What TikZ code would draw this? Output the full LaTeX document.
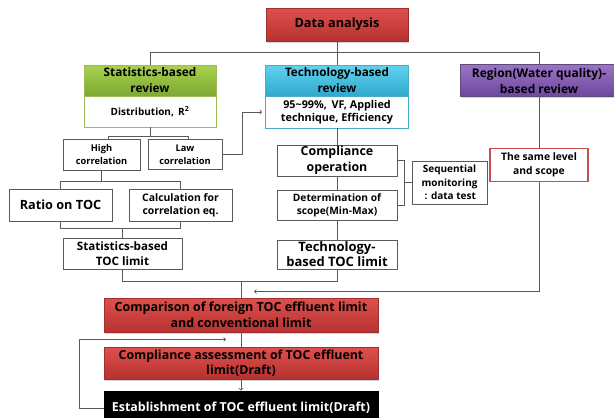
\documentclass[tikz,border=0pt]{standalone}
\usepackage{fontspec}
\setmainfont{Open Sans}
\usetikzlibrary{shadows}

\definecolor{linegray}{HTML}{5A5A5A}
\definecolor{redtop}{HTML}{E0504C}
\definecolor{redbot}{HTML}{B53230}
\definecolor{redline}{HTML}{A0302D}
\definecolor{greentop}{HTML}{A8D24E}
\definecolor{greenbot}{HTML}{7EA832}
\definecolor{greenline}{HTML}{9BBB59}
\definecolor{cyantop}{HTML}{62D2EE}
\definecolor{cyanbot}{HTML}{2EA9CE}
\definecolor{cyanline}{HTML}{4BACC6}
\definecolor{purpletop}{HTML}{9A74C4}
\definecolor{purplebot}{HTML}{6E479E}
\definecolor{purpleline}{HTML}{604A7B}
\definecolor{sameline}{HTML}{C0504D}

\tikzset{
	flowpicture/.style = {
		node distance = 50pt,
		line width = 0.8pt,
		arrow/.style = {
			draw = linegray,
			->,
		},
		link/.style = {
			draw = linegray,
		}
	},
	basebox/.style = {
		inner sep = 0pt,
		align = center,
		font = \bfseries
	},
	whitebox/.style = {
		basebox,
		draw = linegray,
		fill = white
	},
	redbox/.style = {
		basebox,
		draw = redline,
		top color = redtop,
		bottom color = redbot,
		drop shadow = {opacity = 0.35, shadow xshift = 1pt, shadow yshift = -1.5pt}
	},
	greenhead/.style = {
		basebox,
		draw = greenline,
		top color = greentop,
		bottom color = greenbot
	},
	cyanhead/.style = {
		basebox,
		draw = cyanline,
		top color = cyantop,
		bottom color = cyanbot
	},
	purplehead/.style = {
		basebox,
		draw = purpleline,
		top color = purpletop,
		bottom color = purplebot,
		drop shadow = {opacity = 0.35, shadow xshift = 1pt, shadow yshift = -1.5pt}
	},
	blackbox/.style = {
		basebox,
		draw = black,
		fill = black,
		text = white
	},
	fs/.style n args = {2}{
		font = \bfseries\fontsize{#1}{#2}\selectfont
	}
}

\begin{document}
\begin{tikzpicture}[flowpicture]
	\useasboundingbox (0,0) rectangle (614pt,-418pt);

	% top
	\node[redbox, fs = {12.7}{15}, minimum width = 142pt, minimum height = 33pt] (data) at (337pt,-24.5pt) {Data analysis};

	% review headers
	\node[cyanhead, fs = {11.7}{16}, minimum width = 143pt, minimum height = 31pt, below of = data, node distance = 56pt] (tech) {Technology-based\\review};
	\node[greenhead, fs = {11.8}{16}, minimum width = 132pt, minimum height = 31pt, left of = tech, node distance = 187pt] (stat) {Statistics-based\\review};
	\node[purplehead, fs = {12}{16}, minimum width = 157pt, minimum height = 32pt, right of = tech, node distance = 202pt] (region) {Region(Water quality)-\\based review};
	\node[basebox, draw = greenline, fill = white, fs = {10}{13}, minimum width = 132pt, minimum height = 31pt, below of = stat, node distance = 31pt] (statw) {Distribution,\, R\textsuperscript{2}};
	\node[basebox, draw = cyanline, fill = white, fs = {10.8}{13.5}, minimum width = 143pt, minimum height = 32pt, below of = tech, node distance = 31.5pt] (techw) {95\textasciitilde99\%, \,VF, Applied\\technique, Efficiency};

	% statistics column
	\node[whitebox, fs = {9.3}{13}, minimum width = 77pt, minimum height = 31pt, below of = statw, node distance = 43pt, xshift = -48.5pt] (high) {High\\correlation};
	\node[whitebox, fs = {9.3}{13}, minimum width = 74pt, minimum height = 30pt, right of = high, node distance = 83.5pt] (law) {Law\\correlation};
	\node[whitebox, fs = {12.7}{15}, minimum width = 103pt, minimum height = 32pt, below of = high, node distance = 50.5pt, xshift = -41pt] (ratio) {Ratio on TOC};
	\node[whitebox, fs = {10.4}{13}, minimum width = 103pt, minimum height = 32pt, right of = ratio, node distance = 120pt] (calc) {Calculation for\\correlation eq.};
	\node[whitebox, fs = {11.6}{15}, minimum width = 119pt, minimum height = 31pt, below of = ratio, node distance = 48.5pt, xshift = 62pt] (statlim) {Statistics-based\\TOC limit};

	% technology column
	\node[whitebox, fs = {12.4}{15.5}, minimum width = 120pt, minimum height = 31pt, below of = techw, node distance = 48.5pt] (comp) {Compliance\\operation};
	\node[whitebox, fs = {10.2}{13}, minimum width = 120pt, minimum height = 30pt, below of = comp, node distance = 44.5pt] (det) {Determination of\\scope(Min-Max)};
	\node[whitebox, fs = {13}{15}, minimum width = 120pt, minimum height = 29pt, below of = det, node distance = 49.5pt] (techlim) {Technology-\\based TOC limit};
	\node[whitebox, fs = {10}{13.5}, minimum width = 75pt, minimum height = 43pt, right of = comp, node distance = 112.5pt, yshift = -22pt] (seq) {Sequential\\monitoring\\\,: data test};

	% region column
	\node[whitebox, draw = sameline, line width = 1.4pt, fs = {10.3}{13.5}, minimum width = 98pt, minimum height = 33pt, below of = region, node distance = 84.5pt] (same) {The same level\\and scope};

	% bottom
	\node[redbox, fs = {12.5}{15.5}, minimum width = 274pt, minimum height = 34pt, below of = statlim, node distance = 61.5pt, xshift = 118.5pt] (cmp) {Comparison of foreign TOC effluent limit\\and conventional limit};
	\node[redbox, fs = {12.4}{15.5}, minimum width = 274pt, minimum height = 32pt, below of = cmp, node distance = 48pt] (assess) {Compliance assessment of TOC effluent\\limit(Draft)};
	\node[blackbox, fs = {12.4}{15}, minimum width = 274pt, minimum height = 34pt, below of = assess, node distance = 45pt] (est) {Establishment of TOC effluent limit(Draft)};

	\begin{scope}[every path/.style = link]
		\path (data.south) -- ++(0,-11pt) coordinate (hub);
		\path (stat.north) |- (hub) -| (region.north);
		\path (hub) -- (tech.north);

		\path (statw.south) -- ++(0,-9pt) coordinate (sb);
		\path ([xshift = 6.5pt]high.north) |- (sb) -| ([xshift = 3pt]law.north);
		\path (high.south) -- ++(0,-11pt) coordinate (hb);
		\path (ratio.north) |- (hb) -| (calc.north);
		\path (ratio.south) |- ([yshift = 9pt]statlim.north) -| (calc.south);
		\path (statlim.north) -- ++(0,9pt);

		\path (techw.south) -- (comp.north);
		\path (comp.south) -- (det.north);
		\path (det.south) -- (techlim.north);
		\path (comp.east) -- ++(7pt,0) |- (det.east);
		\path (seq.west) -- ++(-8pt,0);

		\path (region.south) -- (same.north);
		\path (statlim.south) |- ([yshift = 16pt]cmp.north) -| (techlim.south);
		\path (cmp.north) -- ++(0,16pt);
		\path (cmp.south) -- (assess.north);
	\end{scope}

	\begin{scope}[every path/.style = arrow]
		\path (law.east) -- ++(20pt,0) |- ([xshift = -3pt]techw.west);
		\path (same.south) |- ([xshift = 13pt, yshift = 6pt]cmp.north);
		\path (assess.south) -- (est.north);
		\path (est.west) -- ++(-24pt,0) |- ([xshift = -15pt, yshift = -7pt]cmp.south);
	\end{scope}
\end{tikzpicture}
\end{document}
